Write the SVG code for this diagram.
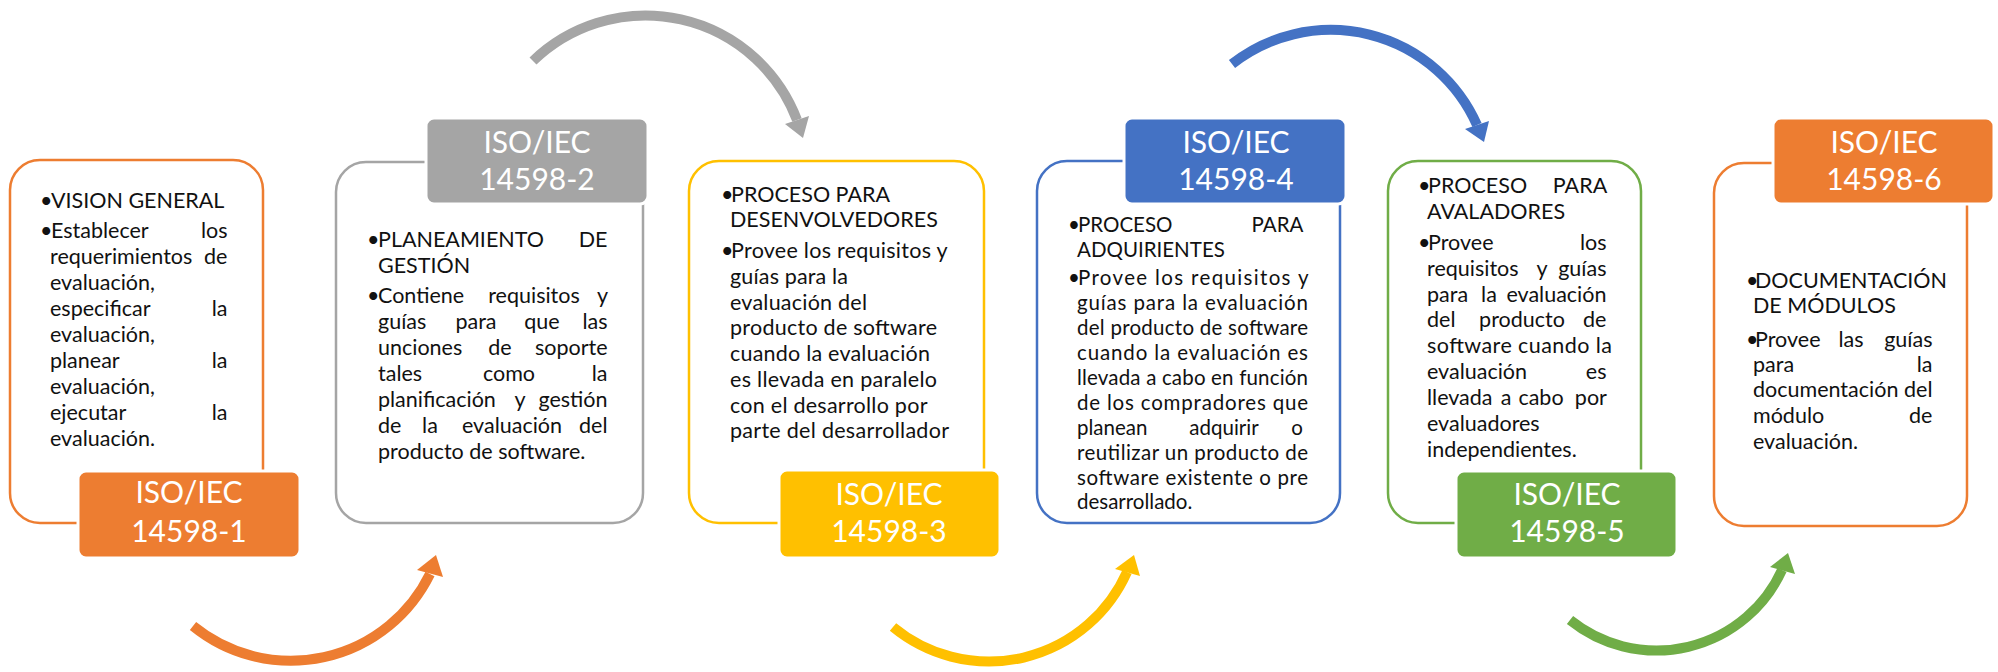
<svg xmlns="http://www.w3.org/2000/svg" width="1998" height="672" viewBox="0 0 1998 672">
<style>
.box{fill:#fff;stroke-width:2.5}
.lbl{stroke:#fff;stroke-width:3}
.lt{font-family:Lato,"Liberation Sans",sans-serif;font-size:30px;fill:#fff;text-anchor:middle}
.t{font-family:Lato,"Liberation Sans",sans-serif;font-size:21.5px;fill:#111}
.s{font-size:20.5px}
.e{text-anchor:end}
.m{text-anchor:middle}
.arc{fill:none;stroke-width:10}
</style>
<rect width="1998" height="672" fill="#fff"/>
<g id="connectors">
<path class="arc" stroke="#ED7D31" d="M193 626 A155 155 0 0 0 430 574"/>
<polygon fill="#ED7D31" points="417,570 443,577 436,555"/>
<path class="arc" stroke="#A5A5A5" d="M533 61 A162 162 0 0 1 797 120"/>
<polygon fill="#A5A5A5" points="785,124 809,116 803,138"/>
<path class="arc" stroke="#FFC000" d="M893 627 A151 151 0 0 0 1127 572"/>
<polygon fill="#FFC000" points="1115,569 1140,576 1134,555"/>
<path class="arc" stroke="#4472C4" d="M1232 64 A160 160 0 0 1 1477 125"/>
<polygon fill="#4472C4" points="1465,129 1489,121 1484,142"/>
<path class="arc" stroke="#70AD47" d="M1570 620 A138 138 0 0 0 1782 570"/>
<polygon fill="#70AD47" points="1770,567 1795,574 1788,553"/>
</g>
<g id="n1">
<rect class="box" stroke="#ED7D31" x="10" y="160" width="253" height="363" rx="30"/>
<text class="t"><tspan x="40" y="208">•</tspan><tspan x="51" y="208">VISION GENERAL</tspan>
<tspan x="40" y="238">•</tspan><tspan x="51" y="238">Establecer</tspan><tspan class="e" x="233" y="238">los</tspan>
<tspan x="50" y="264">requerimientos</tspan><tspan class="e" x="233" y="264">de</tspan>
<tspan x="50" y="290">evaluación,</tspan>
<tspan x="50" y="316">especificar</tspan><tspan class="e" x="233" y="316">la</tspan>
<tspan x="50" y="342">evaluación,</tspan>
<tspan x="50" y="368">planear</tspan><tspan class="e" x="233" y="368">la</tspan>
<tspan x="50" y="394">evaluación,</tspan>
<tspan x="50" y="420">ejecutar</tspan><tspan class="e" x="233" y="420">la</tspan>
<tspan x="50" y="446">evaluación.</tspan></text>
<rect class="lbl" fill="#ED7D31" x="78" y="471" width="222" height="87" rx="8"/>
<text class="lt"><tspan x="189" y="503">ISO/IEC</tspan><tspan x="189" y="542">14598-1</tspan></text>
</g>
<g id="n2">
<rect class="box" stroke="#A5A5A5" x="336" y="162" width="307" height="361" rx="30"/>
<rect class="lbl" fill="#A5A5A5" x="426" y="118" width="222" height="86" rx="8"/>
<text class="lt"><tspan x="537" y="153">ISO/IEC</tspan><tspan x="537" y="190">14598-2</tspan></text>
<text class="t"><tspan x="367" y="247">•</tspan><tspan x="378" y="247">PLANEAMIENTO</tspan><tspan class="e" x="613" y="247">DE</tspan>
<tspan x="378" y="273">GESTIÓN</tspan>
<tspan x="367" y="303">•</tspan><tspan x="378" y="303">Contiene</tspan><tspan class="m" x="534" y="303">requisitos</tspan><tspan class="e" x="613" y="303">y</tspan>
<tspan x="378" y="329">guías</tspan><tspan class="m" x="476" y="329">para</tspan><tspan class="m" x="542" y="329">que</tspan><tspan class="e" x="613" y="329">las</tspan>
<tspan x="378" y="355">unciones</tspan><tspan class="m" x="500" y="355">de</tspan><tspan class="e" x="613" y="355">soporte</tspan>
<tspan x="378" y="381">tales</tspan><tspan class="m" x="509" y="381">como</tspan><tspan class="e" x="613" y="381">la</tspan>
<tspan x="378" y="407">planificación</tspan><tspan class="m" x="520" y="407">y</tspan><tspan class="e" x="613" y="407">gestión</tspan>
<tspan x="378" y="433">de</tspan><tspan class="m" x="430" y="433">la</tspan><tspan class="m" x="512" y="433">evaluación</tspan><tspan class="e" x="613" y="433">del</tspan>
<tspan x="378" y="459">producto de software.</tspan></text>
</g>
<g id="n3">
<rect class="box" stroke="#FFC000" x="689" y="161" width="295" height="362" rx="30"/>
<text class="t"><tspan x="721" y="202">•</tspan><tspan x="731" y="202">PROCESO PARA</tspan>
<tspan x="730" y="227">DESENVOLVEDORES</tspan>
<tspan x="721" y="258">•</tspan><tspan x="731" y="258" textLength="216" lengthAdjust="spacing">Provee los requisitos y</tspan>
<tspan x="730" y="284" textLength="118" lengthAdjust="spacing">guías para la</tspan>
<tspan x="730" y="310" textLength="137" lengthAdjust="spacing">evaluación del</tspan>
<tspan x="730" y="335" textLength="207" lengthAdjust="spacing">producto de software</tspan>
<tspan x="730" y="361" textLength="200" lengthAdjust="spacing">cuando la evaluación</tspan>
<tspan x="730" y="387" textLength="207" lengthAdjust="spacing">es llevada en paralelo</tspan>
<tspan x="730" y="413" textLength="197" lengthAdjust="spacing">con el desarrollo por</tspan>
<tspan x="730" y="438" textLength="219" lengthAdjust="spacing">parte del desarrollador</tspan></text>
<rect class="lbl" fill="#FFC000" x="779" y="470" width="221" height="88" rx="8"/>
<text class="lt"><tspan x="889" y="505">ISO/IEC</tspan><tspan x="889" y="542">14598-3</tspan></text>
</g>
<g id="n4">
<rect class="box" stroke="#4472C4" x="1037" y="161" width="303" height="362" rx="30"/>
<rect class="lbl" fill="#4472C4" x="1124" y="118" width="222" height="86" rx="8"/>
<text class="lt"><tspan x="1236" y="153">ISO/IEC</tspan><tspan x="1236" y="190">14598-4</tspan></text>
<text class="t s"><tspan x="1068" y="232">•</tspan><tspan x="1078" y="232">PROCESO</tspan><tspan class="e" x="1308" y="232">PARA</tspan>
<tspan x="1077" y="257">ADQUIRIENTES</tspan>
<tspan x="1068" y="285">•</tspan><tspan x="1078" y="285" textLength="230" lengthAdjust="spacing">Provee los requisitos y</tspan>
<tspan x="1077" y="310" textLength="231" lengthAdjust="spacing">guías para la evaluación</tspan>
<tspan x="1077" y="335" textLength="231" lengthAdjust="spacing">del producto de software</tspan>
<tspan x="1077" y="360" textLength="231" lengthAdjust="spacing">cuando la evaluación es</tspan>
<tspan x="1077" y="385" textLength="231" lengthAdjust="spacing">llevada a cabo en función</tspan>
<tspan x="1077" y="410" textLength="231" lengthAdjust="spacing">de los compradores que</tspan>
<tspan x="1077" y="435">planean</tspan><tspan class="m" x="1224" y="435">adquirir</tspan><tspan class="e" x="1308" y="435">o</tspan>
<tspan x="1077" y="460" textLength="231" lengthAdjust="spacing">reutilizar un producto de</tspan>
<tspan x="1077" y="485" textLength="231" lengthAdjust="spacing">software existente o pre</tspan>
<tspan x="1077" y="509">desarrollado.</tspan></text>
</g>
<g id="n5">
<rect class="box" stroke="#70AD47" x="1388" y="161" width="253" height="362" rx="30"/>
<text class="t"><tspan x="1418" y="193">•</tspan><tspan x="1428" y="193">PROCESO</tspan><tspan class="e" x="1612" y="193">PARA</tspan>
<tspan x="1427" y="219">AVALADORES</tspan>
<tspan x="1418" y="250">•</tspan><tspan x="1428" y="250">Provee</tspan><tspan class="e" x="1612" y="250">los</tspan>
<tspan x="1427" y="276">requisitos</tspan><tspan class="m" x="1542" y="276">y</tspan><tspan class="e" x="1612" y="276">guías</tspan>
<tspan x="1427" y="302">para</tspan><tspan class="m" x="1489" y="302">la</tspan><tspan class="e" x="1612" y="302">evaluación</tspan>
<tspan x="1427" y="327">del</tspan><tspan class="m" x="1522" y="327">producto</tspan><tspan class="e" x="1612" y="327">de</tspan>
<tspan x="1427" y="353" textLength="185" lengthAdjust="spacing">software cuando la</tspan>
<tspan x="1427" y="379">evaluación</tspan><tspan class="e" x="1612" y="379">es</tspan>
<tspan x="1427" y="405">llevada</tspan><tspan class="m" x="1506" y="405">a</tspan><tspan class="m" x="1541" y="405">cabo</tspan><tspan class="e" x="1612" y="405">por</tspan>
<tspan x="1427" y="431">evaluadores</tspan>
<tspan x="1427" y="457">independientes.</tspan></text>
<rect class="lbl" fill="#70AD47" x="1456" y="471" width="221" height="87" rx="8"/>
<text class="lt"><tspan x="1567" y="505">ISO/IEC</tspan><tspan x="1567" y="542">14598-5</tspan></text>
</g>
<g id="n6">
<rect class="box" stroke="#ED7D31" x="1714" y="163" width="253" height="363" rx="30"/>
<rect class="lbl" fill="#ED7D31" x="1773" y="118" width="221" height="86" rx="8"/>
<text class="lt"><tspan x="1884" y="153">ISO/IEC</tspan><tspan x="1884" y="190">14598-6</tspan></text>
<text class="t"><tspan x="1746" y="288">•</tspan><tspan x="1755" y="288">DOCUMENTACIÓN</tspan>
<tspan x="1753" y="313">DE MÓDULOS</tspan>
<tspan x="1746" y="347">•</tspan><tspan x="1755" y="347">Provee</tspan><tspan class="m" x="1851" y="347">las</tspan><tspan class="e" x="1938" y="347">guías</tspan>
<tspan x="1753" y="372">para</tspan><tspan class="e" x="1938" y="372">la</tspan>
<tspan x="1753" y="397">documentación</tspan><tspan class="e" x="1938" y="397">del</tspan>
<tspan x="1753" y="423">módulo</tspan><tspan class="e" x="1938" y="423">de</tspan>
<tspan x="1753" y="449">evaluación.</tspan></text>
</g>
</svg>
